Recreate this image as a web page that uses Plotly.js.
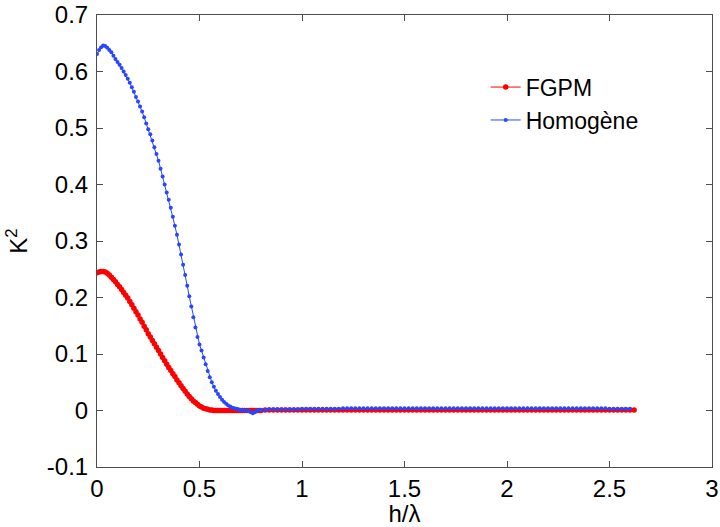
<!DOCTYPE html>
<html>
<head>
<meta charset="utf-8">
<script src="https://cdn.plot.ly/plotly-3.0.1.min.js"></script>
<style>html,body{margin:0;padding:0;background:#fff;}#chart{width:720px;height:527px;}</style>
</head>
<body>
<div id="chart"></div>
<script>
// h/lambda sample positions
var hOverLambda = [
  0.00,0.01,0.02,0.03,0.04,0.05,0.06,0.07,0.08,0.09,
  0.10,0.11,0.12,0.13,0.14,0.15,0.16,0.17,0.18,0.19,
  0.20,0.21,0.22,0.23,0.24,0.25,0.26,0.27,0.28,0.29,
  0.30,0.31,0.32,0.33,0.34,0.35,0.36,0.37,0.38,0.39,
  0.40,0.41,0.42,0.43,0.44,0.45,0.46,0.47,0.48,0.49,
  0.50,0.51,0.52,0.53,0.54,0.55,0.56,0.57,0.58,0.59,
  0.60,0.61,0.62,0.63,0.64,0.65,0.66,0.67,0.68,0.69,
  0.70,0.71,0.72,0.73,0.74,0.75,0.76,0.77,0.78,0.79,
  0.80,
  0.82,0.84,0.86,0.88,0.90,0.92,0.94,0.96,0.98,
  1.00,1.02,1.04,1.06,1.08,1.10,1.12,1.14,1.16,1.18,
  1.20,1.22,1.24,1.26,1.28,1.30,1.32,1.34,1.36,1.38,
  1.40,1.42,1.44,1.46,1.48,1.50,1.52,1.54,1.56,1.58,
  1.60,1.62,1.64,1.66,1.68,1.70,1.72,1.74,1.76,1.78,
  1.80,1.82,1.84,1.86,1.88,1.90,1.92,1.94,1.96,1.98,
  2.00,2.02,2.04,2.06,2.08,2.10,2.12,2.14,2.16,2.18,
  2.20,2.22,2.24,2.26,2.28,2.30,2.32,2.34,2.36,2.38,
  2.40,2.42,2.44,2.46,2.48,2.50,2.52,2.54,2.56,2.58,
  2.60,2.62
];

// K^2 for the FGPM structure
var k2FGPM = [
  0.244,0.245,0.246,0.246,0.245,0.243,0.240,0.236,0.232,0.228,
  0.223,0.219,0.214,0.209,0.204,0.199,0.193,0.187,0.181,0.175,
  0.169,0.162,0.156,0.149,0.143,0.136,0.130,0.124,0.118,0.112,
  0.106,0.100,0.094,0.088,0.082,0.076,0.071,0.065,0.060,0.054,
  0.049,0.044,0.039,0.034,0.029,0.025,0.021,0.017,0.014,0.011,
  0.008,0.006,0.004,0.003,0.002,0.001,0.001,0.000,0.000,0.000,
  0.000,0.000,0.000,0.000,0.000,0.000,0.000,0.000,0.000,0.000,
  0.000,0.000,0.000,0.000,0.000,0.000,0.000,0.000,0.000,0.000,
  0.000,
  0.001,0.001,0.001,0.001,0.001,0.001,0.001,0.001,0.001,
  0.001,0.001,0.001,0.001,0.001,0.001,0.001,0.001,0.001,0.001,
  0.001,0.001,0.001,0.001,0.001,0.001,0.001,0.001,0.001,0.001,
  0.001,0.001,0.001,0.001,0.001,0.001,0.001,0.001,0.001,0.001,
  0.001,0.001,0.001,0.001,0.001,0.001,0.001,0.001,0.001,0.001,
  0.001,0.001,0.001,0.001,0.001,0.001,0.001,0.001,0.001,0.001,
  0.001,0.001,0.001,0.001,0.001,0.001,0.001,0.001,0.001,0.001,
  0.001,0.001,0.001,0.001,0.001,0.001,0.001,0.001,0.001,0.001,
  0.001,0.001,0.001,0.001,0.001,0.001,0.001,0.001,0.001,0.001,
  0.001,0.001
];

// K^2 for the homogeneous structure (ends at h/lambda = 2.60)
var k2Homogene = [
  0.631,0.638,0.643,0.646,0.645,0.642,0.638,0.634,0.628,0.622,
  0.617,0.612,0.606,0.600,0.594,0.587,0.580,0.572,0.564,0.555,
  0.547,0.538,0.529,0.519,0.508,0.498,0.489,0.478,0.466,0.454,
  0.442,0.428,0.414,0.400,0.386,0.373,0.359,0.343,0.327,0.311,
  0.294,0.276,0.258,0.240,0.221,0.202,0.184,0.165,0.147,0.130,
  0.117,0.106,0.094,0.082,0.070,0.059,0.050,0.042,0.035,0.029,
  0.024,0.019,0.015,0.012,0.009,0.007,0.005,0.004,0.003,0.002,
  0.001,0.001,0.000,0.000,-0.001,-0.003,-0.005,-0.003,0.000,0.001,
  0.001,
  0.001,0.002,0.002,0.002,0.002,0.002,0.002,0.002,0.002,
  0.003,0.003,0.003,0.003,0.003,0.003,0.003,0.003,0.003,0.003,
  0.004,0.004,0.004,0.004,0.004,0.004,0.004,0.004,0.004,0.004,
  0.004,0.004,0.004,0.004,0.004,0.004,0.004,0.004,0.004,0.004,
  0.004,0.004,0.004,0.004,0.004,0.004,0.004,0.004,0.004,0.004,
  0.004,0.004,0.004,0.004,0.004,0.004,0.004,0.004,0.004,0.004,
  0.004,0.004,0.004,0.004,0.004,0.004,0.004,0.004,0.004,0.004,
  0.004,0.004,0.004,0.004,0.004,0.004,0.004,0.004,0.004,0.004,
  0.004,0.004,0.004,0.004,0.004,0.003,0.003,0.003,0.003,0.003,
  0.003
];

var seriesNames = ["FGPM", "Homogène"];
var xTickVals = [0, 0.5, 1, 1.5, 2, 2.5, 3];
var xTickText = ["0", "0.5", "1", "1.5", "2", "2.5", "3"];
var yTickVals = [-0.1, 0, 0.1, 0.2, 0.3, 0.4, 0.5, 0.6, 0.7];
var yTickText = ["-0.1", "0", "0.1", "0.2", "0.3", "0.4", "0.5", "0.6", "0.7"];

var FONT = "Liberation Sans, Arial, Helvetica, sans-serif";
var AXC = "#4d4d4d";

var traces = [
  {
    x: hOverLambda.slice(0, k2FGPM.length), y: k2FGPM, name: seriesNames[0],
    type: "scatter", mode: "lines+markers",
    line: {color: "#ff0000", width: 1},
    marker: {color: "#ff0000", size: 5.5, symbol: "circle"}
  },
  {
    x: hOverLambda.slice(0, k2Homogene.length), y: k2Homogene, name: seriesNames[1],
    type: "scatter", mode: "lines+markers",
    line: {color: "#2846ff", width: 1},
    marker: {color: "#2846ff", size: 4, symbol: "circle"}
  }
];

var layout = {
  width: 720, height: 527,
  margin: {l: 97, r: 8, t: 15, b: 60},
  paper_bgcolor: "#ffffff", plot_bgcolor: "#ffffff",
  font: {family: FONT, size: 24, color: "#000000"},
  showlegend: true,
  legend: {
    x: 0.632, y: 0.888, xanchor: "left", yanchor: "top",
    bgcolor: "rgba(0,0,0,0)", borderwidth: 0,
    font: {family: FONT, size: 23, color: "#000000"}
  },
  xaxis: {
    range: [0, 3], tickvals: xTickVals, ticktext: xTickText,
    showgrid: false, zeroline: false,
    showline: true, linecolor: AXC, linewidth: 1, mirror: "allticks",
    ticks: "inside", ticklen: 6, tickcolor: AXC, tickwidth: 1,
    ticklabelstandoff: 0,
    tickfont: {family: FONT, size: 24, color: "#000000"},
    title: {text: "h/λ", font: {family: FONT, size: 24, color: "#000000"}, standoff: 8}
  },
  yaxis: {
    range: [-0.1, 0.7], tickvals: yTickVals, ticktext: yTickText,
    showgrid: false, zeroline: false,
    showline: true, linecolor: AXC, linewidth: 1, mirror: "allticks",
    ticks: "inside", ticklen: 6, tickcolor: AXC, tickwidth: 1,
    ticklabelstandoff: 3,
    tickfont: {family: FONT, size: 24, color: "#000000"},
    title: {text: "K<sup>2</sup>", font: {family: FONT, size: 24, color: "#000000"}, standoff: 12}
  }
};

Plotly.newPlot("chart", traces, layout, {displayModeBar: false, staticPlot: true});
</script>
</body>
</html>
